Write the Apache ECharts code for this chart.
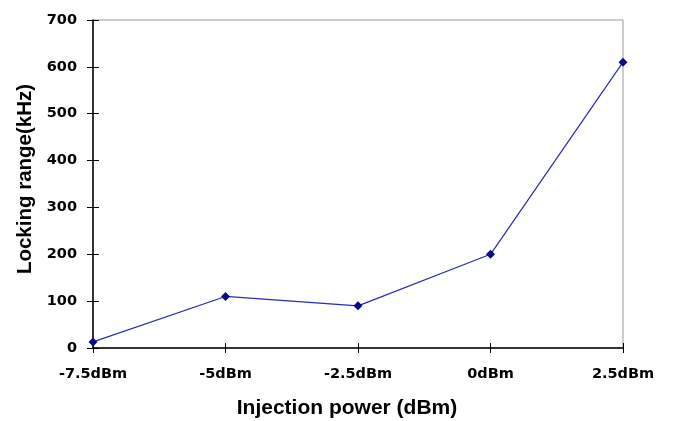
<!DOCTYPE html>
<html>
<head>
<meta charset="utf-8">
<script src="https://cdn.jsdelivr.net/npm/echarts@6/dist/echarts.min.js"></script>
<style>
    html, body { margin: 0; padding: 0; background: #fff; }
    #chart { width: 674px; height: 421px; }
</style>
</head>
<body>
<div id="chart"></div>
<script>
// data
const powers = ["-7.5dBm", "-5dBm", "-2.5dBm", "0dBm", "2.5dBm"];
const lockingRange = [13, 110, 90, 200, 610];

const titleFont = "Arial, 'Liberation Sans', sans-serif";
const tickFont = "'DejaVu Sans', Verdana, sans-serif";

const chart = echarts.init(document.getElementById("chart"));
chart.setOption({
    animation: false,
    grid: {
        left: 93,
        right: 51,
        top: 20,
        bottom: 73,
        outerBoundsMode: "none",
        containLabel: false,
        show: true,
        borderColor: "#999",
        borderWidth: 1
    },
    xAxis: [
        {
            type: "category",
            data: powers,
            boundaryGap: false,
            name: "Injection power (dBm)",
            nameLocation: "middle",
            nameGap: 50,
            nameTextStyle: {
                fontFamily: titleFont, fontSize: 21, fontWeight: "bold", color: "#000",
                padding: [0, 22, 0, 0]
            },
            axisLine: { lineStyle: { color: "#000", width: 1.5 } },
            axisTick: { show: true, length: 5, lineStyle: { color: "#000" } },
            axisLabel: { fontFamily: tickFont, fontSize: 14.5, fontWeight: "bold", color: "#000", margin: 19 },
            splitLine: { show: false }
        },
        {
            type: "category",
            data: powers,
            boundaryGap: false,
            position: "bottom",
            axisLine: { show: false },
            axisTick: { show: true, inside: true, length: 5, lineStyle: { color: "#000" } },
            axisLabel: { show: false },
            splitLine: { show: false }
        }
    ],
    yAxis: [
        {
            type: "value",
            min: 0,
            max: 700,
            interval: 100,
            name: "Locking range(kHz)",
            nameLocation: "middle",
            nameGap: 56,
            nameTextStyle: {
                fontFamily: titleFont, fontSize: 20.5, fontWeight: "bold", color: "#000",
                padding: [0, 0, 0, 10]
            },
            axisLine: { show: true, lineStyle: { color: "#000", width: 1.5 } },
            axisTick: { show: true, length: 6, lineStyle: { color: "#000" } },
            axisLabel: { fontFamily: tickFont, fontSize: 14.5, fontWeight: "bold", color: "#000", margin: 16 },
            splitLine: { show: false }
        },
        {
            type: "value",
            min: 0,
            max: 700,
            interval: 100,
            position: "left",
            axisLine: { show: false },
            axisTick: { show: true, inside: true, length: 6, lineStyle: { color: "#000" } },
            axisLabel: { show: false },
            splitLine: { show: false }
        }
    ],
    series: [
        {
            type: "line",
            data: lockingRange,
            symbol: "diamond",
            symbolSize: 9,
            lineStyle: { color: "#2a2ab4", width: 1.2 },
            itemStyle: { color: "#0b0b80" }
        }
    ]
});
</script>
</body>
</html>
